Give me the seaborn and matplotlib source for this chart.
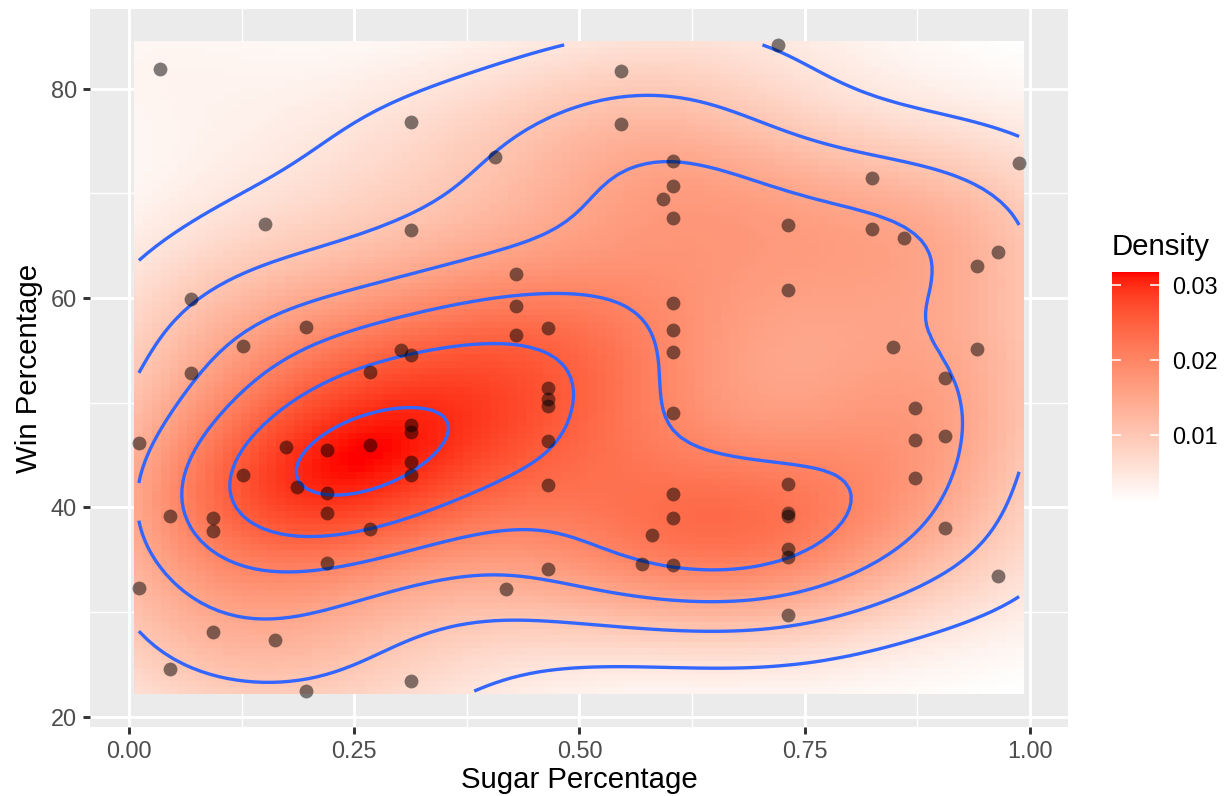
import numpy as np
import pandas as pd
import seaborn as sns
import matplotlib.pyplot as plt
from matplotlib.colors import ListedColormap

# candy data: sugar percentile vs win percentage
sugar = [0.732, 0.604, 0.011, 0.011, 0.906, 0.465, 0.604, 0.313, 0.906, 0.604,
         0.604, 0.732, 0.046, 0.732, 0.732, 0.127, 0.732, 0.906, 0.465, 0.465,
         0.465, 0.465, 0.127, 0.430, 0.430, 0.430, 0.093, 0.197, 0.313, 0.220,
         0.046, 0.267, 0.825, 0.825, 0.872, 0.302, 0.604, 0.732, 0.965, 0.313,
         0.313, 0.848, 0.604, 0.313, 0.197, 0.220, 0.465, 0.593, 0.093, 0.604,
         0.581, 0.034, 0.720, 0.406, 0.988, 0.732, 0.860, 0.732, 0.872, 0.220,
         0.941, 0.941, 0.267, 0.267, 0.546, 0.604, 0.069, 0.069, 0.151, 0.569,
         0.965, 0.418, 0.162, 0.604, 0.604, 0.313, 0.174, 0.465, 0.313, 0.546,
         0.220, 0.093, 0.313, 0.186, 0.872]
win = [66.97, 67.60, 32.26, 46.12, 52.34, 50.35, 56.91, 23.42, 38.01, 34.52,
       38.98, 36.02, 24.52, 42.27, 39.46, 43.09, 39.19, 46.78, 57.12, 34.16,
       51.41, 42.18, 55.38, 62.28, 56.49, 59.24, 28.13, 57.22, 76.77, 41.39,
       39.14, 52.91, 71.47, 66.57, 46.41, 55.06, 73.10, 60.80, 64.35, 47.83,
       54.53, 55.35, 70.74, 66.47, 22.45, 39.45, 46.30, 69.48, 37.72, 41.27,
       37.35, 81.87, 84.18, 73.43, 72.89, 35.29, 65.72, 29.70, 42.85, 34.72,
       63.09, 55.10, 37.89, 45.99, 76.67, 59.53, 59.86, 52.83, 67.04, 34.58,
       33.44, 32.23, 27.30, 54.86, 48.98, 43.07, 45.74, 49.65, 47.17, 81.64,
       45.47, 39.01, 44.38, 41.90, 49.52]
contour_levels = [0.005, 0.010, 0.015, 0.020, 0.025, 0.030]
legend_ticks = [0.01, 0.02, 0.03]

df = pd.DataFrame({'sugar': sugar, 'win': win})
x = df['sugar'].to_numpy()
y = df['win'].to_numpy()


def bandwidth_nrd(v):
    q1, q3 = np.percentile(v, [25, 75])
    return 4 * 1.06 * min(np.std(v, ddof=1), (q3 - q1) / 1.34) * len(v) ** (-0.2)


# 2d kernel density on a 100x100 grid (like MASS::kde2d)
n_grid = 100
gx = np.linspace(x.min(), x.max(), n_grid)
gy = np.linspace(y.min(), y.max(), n_grid)
hx = bandwidth_nrd(x) / 4
hy = bandwidth_nrd(y) / 4
kx = np.exp(-0.5 * ((gx[:, None] - x[None, :]) / hx) ** 2) / np.sqrt(2 * np.pi)
ky = np.exp(-0.5 * ((gy[:, None] - y[None, :]) / hy) ** 2) / np.sqrt(2 * np.pi)
z = kx @ ky.T / (len(x) * hx * hy)


# white -> red gradient interpolated in CIELAB, like scale_fill_gradient
def srgb_to_lab(c):
    c = np.asarray(c, float)
    lin = np.where(c <= 0.04045, c / 12.92, ((c + 0.055) / 1.055) ** 2.4)
    m = np.array([[0.4124, 0.3576, 0.1805], [0.2126, 0.7152, 0.0722], [0.0193, 0.1192, 0.9505]])
    xyz = m @ lin / np.array([0.95047, 1.0, 1.08883])
    f = np.where(xyz > 0.008856, np.cbrt(xyz), 7.787 * xyz + 16 / 116)
    return np.array([116 * f[1] - 16, 500 * (f[0] - f[1]), 200 * (f[1] - f[2])])


def lab_to_srgb(lab):
    L, a, b = lab
    fy = (L + 16) / 116
    f = np.array([fy + a / 500, fy, fy - b / 200])
    xyz = np.where(f ** 3 > 0.008856, f ** 3, (f - 16 / 116) / 7.787) * np.array([0.95047, 1.0, 1.08883])
    m = np.array([[3.2406, -1.5372, -0.4986], [-0.9689, 1.8758, 0.0415], [0.0557, -0.2040, 1.0570]])
    lin = np.clip(m @ xyz, 0, 1)
    return np.clip(np.where(lin <= 0.0031308, 12.92 * lin, 1.055 * lin ** (1 / 2.4) - 0.055), 0, 1)


lab_lo = srgb_to_lab([1, 1, 1])
lab_hi = srgb_to_lab([1, 0, 0])
cmap = ListedColormap([lab_to_srgb(lab_lo + t * (lab_hi - lab_lo)) for t in np.linspace(0, 1, 256)])

plt.rcParams['font.family'] = ['Liberation Sans', 'DejaVu Sans']

W, H, DPI = 1227, 796, 192
fig = plt.figure(figsize=(W / DPI, H / DPI), dpi=DPI)
ax = fig.add_axes([90 / W, 1 - 727 / H, (1068 - 90) / W, (727 - 9) / H])
ax.set_facecolor('#EBEBEB')

dx = (gx[1] - gx[0]) / 2
dy = (gy[1] - gy[0]) / 2
ext = [gx[0] - dx, gx[-1] + dx, gy[0] - dy, gy[-1] + dy]
im = ax.imshow(z.T, origin='lower', extent=ext, aspect='auto', cmap=cmap,
               vmin=z.min(), vmax=z.max(), interpolation='nearest', zorder=2)
ax.contour(gx, gy, z.T, levels=contour_levels, colors='#3366FF', linewidths=1.25, zorder=3)
sns.scatterplot(data=df, x='sugar', y='win', ax=ax, color='black', alpha=0.5,
                s=27, linewidth=0, zorder=4)

# limits: 5% expansion of the raster extent
xr = ext[1] - ext[0]
yr = ext[3] - ext[2]
ax.set_xlim(ext[0] - 0.05 * xr, ext[1] + 0.05 * xr)
ax.set_ylim(ext[2] - 0.05 * yr, ext[3] + 0.05 * yr)

ax.set_xticks([0, 0.25, 0.5, 0.75, 1.0])
ax.set_xticklabels(['0.00', '0.25', '0.50', '0.75', '1.00'])
ax.set_yticks([20, 40, 60, 80])
ax.set_xticks([0.125, 0.375, 0.625, 0.875], minor=True)
ax.set_yticks([30, 50, 70], minor=True)
ax.grid(which='major', color='white', linewidth=1.1, zorder=0)
ax.grid(which='minor', color='white', linewidth=0.55, zorder=0)
ax.set_axisbelow(True)
for s in ax.spines.values():
    s.set_visible(False)
ax.tick_params(which='major', length=2.75, width=1.1, color='#333333',
               labelsize=8.8, labelcolor='#4D4D4D', pad=2.2)
ax.tick_params(which='minor', length=0)
ax.set_xlabel('Sugar Percentage', fontsize=11, color='black', labelpad=1.2)
ax.set_ylabel('Win Percentage', fontsize=11, color='black', labelpad=2.75)

# colour bar legend
cax = fig.add_axes([1112 / W, 1 - 503 / H, 47 / W, (503 - 272) / H])
cb = fig.colorbar(im, cax=cax, ticks=legend_ticks)
cb.outline.set_visible(False)
cax.tick_params(length=0, labelsize=8.8, labelcolor='black', pad=4.9)
cax.set_yticklabels(['0.01', '0.02', '0.03'])
cax.hlines(legend_ticks, 0, 0.2, colors='white', linewidth=0.6)
cax.hlines(legend_ticks, 0.8, 1, colors='white', linewidth=0.6)
fig.text(1112 / W, 1 - 247 / H, 'Density', fontsize=11, va='center', ha='left')

fig.savefig('out.png', dpi=DPI)
